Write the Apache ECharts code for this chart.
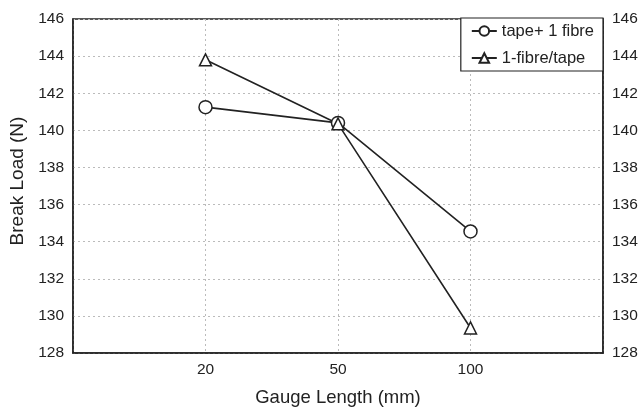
<!DOCTYPE html>
<html><head><meta charset="utf-8">
<script src="https://cdn.jsdelivr.net/npm/echarts@6/dist/echarts.min.js"></script>
<style>html,body{margin:0;padding:0;background:#fff}#c{width:641px;height:407px}</style>
</head><body><div id="c"></div>
<script>
const categories = ['', '20', '50', '100', ''];
const tapeOneFibre = [null, 141.25, 140.4, 134.55, null];
const oneFibreTape = [null, 143.8, 140.35, 129.35, null];
const yTicks = [128, 130, 132, 134, 136, 138, 140, 142, 144, 146];

const chart = echarts.init(document.getElementById('c'), null, {renderer: 'canvas'});
const font = 'Liberation Sans, Arial, sans-serif';
const yAxisBase = {
  type: 'value', min: yTicks[0], max: yTicks[yTicks.length - 1], interval: 2,
  axisLine: {show: true, lineStyle: {color: '#222', width: 1.5}},
  axisTick: {show: false},
  axisLabel: {color: '#222', fontSize: 15.5, fontFamily: font, margin: 9},
};
chart.setOption({
  backgroundColor: '#fff',
  animation: false,
  grid: {left: 73, right: 38, top: 19, bottom: 54, show: true, borderColor: '#222', borderWidth: 1.5,
         containLabel: false, outerBoundsMode: 'none'},
  legend: {
    orient: 'vertical', right: 38, top: 18,
    backgroundColor: '#fff', borderColor: '#222', borderWidth: 1.2,
    padding: [4, 9, 4, 10], itemGap: 9, itemWidth: 25, itemHeight: 12,
    textStyle: {color: '#222', fontSize: 16.5, lineHeight: 18, fontFamily: font},
    data: ['tape+ 1 fibre', '1-fibre/tape']
  },
  xAxis: {
    type: 'category', data: categories, boundaryGap: false,
    name: 'Gauge Length (mm)', nameLocation: 'middle', nameGap: 35,
    nameTextStyle: {color: '#222', fontSize: 18.5, fontFamily: font},
    axisLine: {show: true, lineStyle: {color: '#222', width: 1.5}},
    axisTick: {show: false},
    axisLabel: {color: '#222', fontSize: 15.5, fontFamily: font, margin: 9, interval: 0},
    splitLine: {show: true, interval: 0, lineStyle: {color: '#bbb', type: [2, 3], width: 1}}
  },
  yAxis: [
    Object.assign({}, yAxisBase, {
      position: 'left',
      name: 'Break Load (N)', nameLocation: 'middle', nameGap: 42,
      nameTextStyle: {color: '#222', fontSize: 19, fontFamily: font, padding: [0, 0, 0, 10]},
      splitLine: {show: true, lineStyle: {color: '#bbb', type: [2, 3], width: 1}}
    }),
    Object.assign({}, yAxisBase, {position: 'right', splitLine: {show: false}})
  ],
  series: [
    {
      name: 'tape+ 1 fibre', type: 'line', data: tapeOneFibre,
      symbol: 'circle', symbolSize: 13, connectNulls: false,
      lineStyle: {color: '#222', width: 1.6},
      itemStyle: {color: '#fff', borderColor: '#222', borderWidth: 1.5}
    },
    {
      name: '1-fibre/tape', type: 'line', data: oneFibreTape,
      symbol: 'triangle', symbolSize: 12, connectNulls: false,
      lineStyle: {color: '#222', width: 1.6},
      itemStyle: {color: '#fff', borderColor: '#222', borderWidth: 1.5}
    }
  ]
});
</script></body></html>
